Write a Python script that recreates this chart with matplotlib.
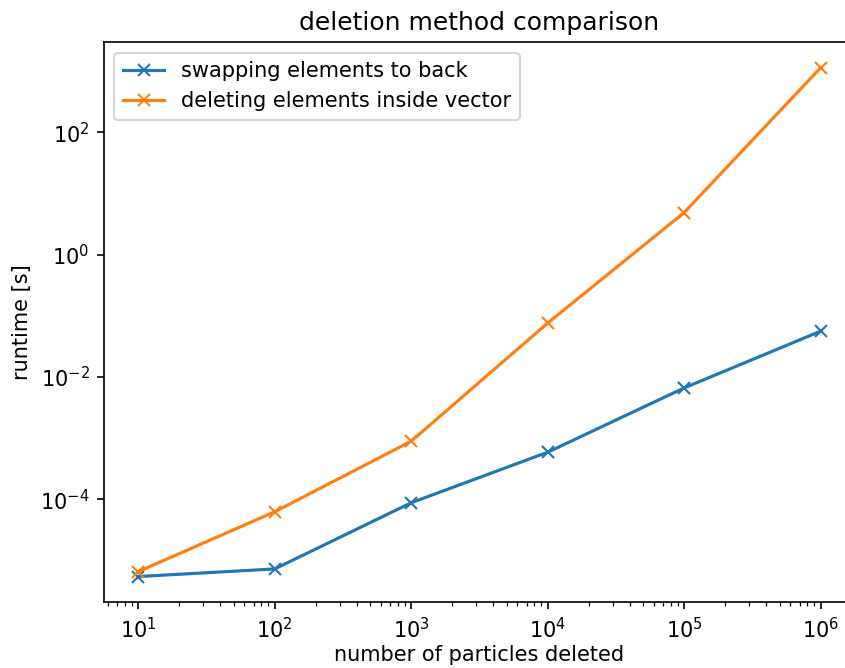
import numpy as np
import matplotlib
matplotlib.use('Agg')
import matplotlib.pyplot as plt
from matplotlib.ticker import LogLocator, NullLocator

# ── Data ──────────────────────────────────────────────────────────────────────
n_deleted = [1e1, 1e2, 1e3, 1e4, 1e5, 1e6]
t_swap    = [5.4e-6, 7.2e-6, 8.7e-5, 5.85e-4, 6.6e-3, 5.6e-2]
t_delete  = [6.5e-6, 6.2e-5, 8.85e-4, 7.6e-2, 4.9, 1.15e3]

labels = ['swapping elements to back', 'deleting elements inside vector']

# ── Figure ────────────────────────────────────────────────────────────────────
DPI = 150
fig = plt.figure(figsize=(845 / DPI, 668 / DPI), dpi=DPI)
# right edge sits past the canvas, as in the (cropped) reference
ax = fig.add_axes([0.1231, 0.0988, 0.8885, 0.838])

ax.plot(n_deleted, t_swap, marker='x', label=labels[0])
ax.plot(n_deleted, t_delete, marker='x', label=labels[1])

ax.set_xscale('log')
ax.set_yscale('log')
# every second decade on y, no minor ticks (as in the reference)
ax.yaxis.set_major_locator(LogLocator(base=100))
ax.yaxis.set_minor_locator(NullLocator())

ax.set_xlabel('number of particles deleted', labelpad=1.5)
ax.set_ylabel('runtime [s]')
ax.set_title('deletion method comparison')
ax.legend(loc='upper left')

fig.savefig('out.png', dpi=DPI)
